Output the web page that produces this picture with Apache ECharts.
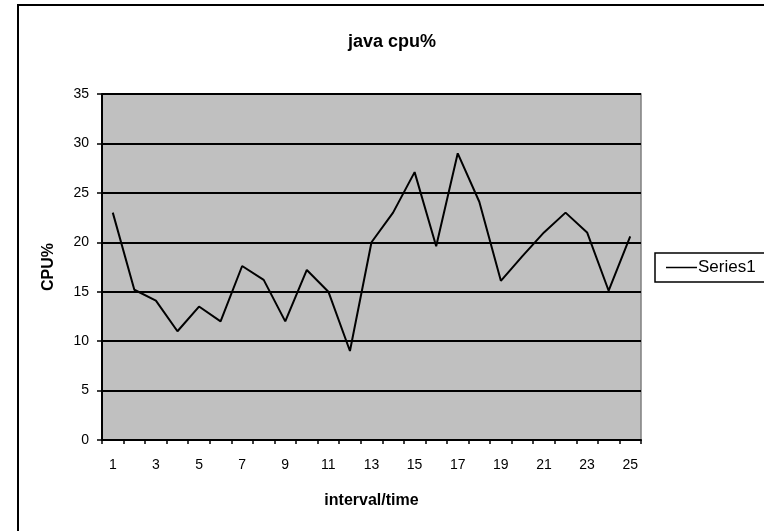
<!DOCTYPE html>
<html>
<head>
<meta charset="utf-8">
<script src="https://cdn.jsdelivr.net/npm/echarts@6/dist/echarts.min.js"></script>
<style>
html,body{margin:0;padding:0;background:#fff;}
#c{width:764px;height:531px;}
</style>
</head>
<body>
<div id="c"></div>
<script>
var categories = ['1','2','3','4','5','6','7','8','9','10','11','12','13','14','15','16','17','18','19','20','21','22','23','24','25'];
var series1 = [23, 15.2, 14.1, 11, 13.5, 12, 17.6, 16.2, 12, 17.2, 15, 9, 20, 23, 27.1, 19.6, 29, 24.1, 16.1, 18.6, 21, 23, 21, 15.1, 20.6];
var yTicks = {min: 0, max: 35, interval: 5};

var FONT = '"Liberation Sans", Arial, sans-serif';
var chart = echarts.init(document.getElementById('c'));
chart.setOption({
  animation: false,
  backgroundColor: '#fff',
  title: {
    text: 'java cpu%',
    left: 387, textAlign: 'center', top: 28,
    textStyle: {fontFamily: FONT, fontSize: 18, fontWeight: 'bold', color: '#000'}
  },
  graphic: [{
    type: 'rect', shape: {x: 18, y: 5, width: 800, height: 560},
    style: {fill: 'none', stroke: '#000', lineWidth: 2}, silent: true, z: -1
  }],
  legend: {
    left: 655, top: 253,
    orient: 'vertical',
    data: ['Series1'],
    icon: 'rect', itemWidth: 31, itemHeight: 1.5, itemGap: 0,
    borderColor: '#000', borderWidth: 1.5, padding: [6, 30, 6, 11],
    textStyle: {fontFamily: FONT, fontSize: 17, color: '#000', padding: [0,0,0,-4]}
  },
  grid: {
    left: 102, top: 94, width: 539, height: 346,
    show: true, backgroundColor: '#C0C0C0', borderColor: '#808080', borderWidth: 1.5
  },
  xAxis: {
    type: 'category', data: categories, boundaryGap: true,
    name: 'interval/time', nameLocation: 'middle', nameGap: 53,
    nameTextStyle: {fontFamily: FONT, fontSize: 16, fontWeight: 'bold', color: '#000'},
    axisLine: {lineStyle: {color: '#000', width: 2}},
    axisTick: {show: true, interval: 0, length: 4, lineStyle: {color: '#000', width: 1.5}},
    axisLabel: {interval: 1, margin: 18, fontFamily: FONT, fontSize: 14, color: '#000'},
    splitLine: {show: false}
  },
  yAxis: {
    type: 'value', min: yTicks.min, max: yTicks.max, interval: yTicks.interval,
    name: 'CPU%', nameLocation: 'middle', nameGap: 45,
    nameTextStyle: {fontFamily: FONT, fontSize: 16, fontWeight: 'bold', color: '#000'},
    axisLine: {show: true, lineStyle: {color: '#000', width: 2}},
    axisTick: {show: true, length: 5, lineStyle: {color: '#000', width: 1.5}},
    axisLabel: {margin: 13, fontFamily: FONT, fontSize: 14, color: '#000'},
    splitLine: {show: true, lineStyle: {color: '#000', width: 2}}
  },
  series: [{
    name: 'Series1', type: 'line', data: series1,
    symbol: 'none', lineStyle: {color: '#000', width: 2}, itemStyle: {color: '#000'}
  }]
});
</script>
</body>
</html>
